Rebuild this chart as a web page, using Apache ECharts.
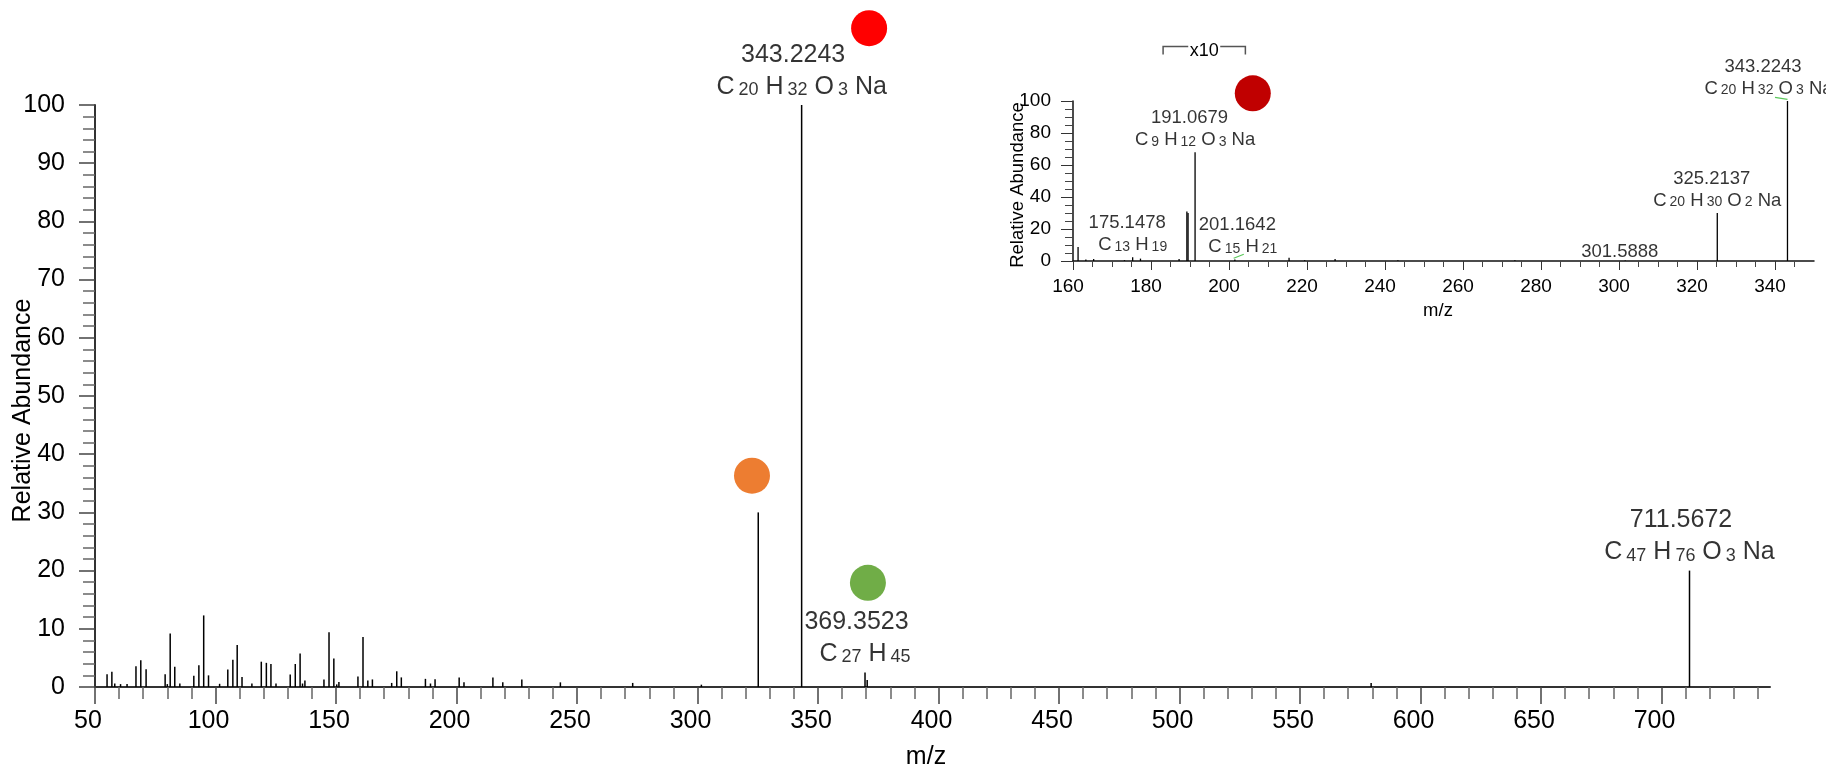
<!DOCTYPE html>
<html><head><meta charset="utf-8">
<script src="https://cdn.jsdelivr.net/npm/echarts@6/dist/echarts.min.js"></script>
<style>html,body{margin:0;padding:0;background:#fff}#c{width:1826px;height:767px}</style>
</head><body><div id="c"></div>
<script>
// ===== DATA =====
// main spectrum: [m/z, relative abundance]
const mainPeaks = [
  [55.0,2.2],[57.0,2.6],[58.2,0.6],[60.6,0.5],[63.3,0.5],[67.0,3.55],[69.0,4.6],[71.2,3.05],
  [79.1,2.2],[80.0,0.5],[81.2,9.2],[83.1,3.5],[85.2,0.6],[91.0,1.95],[93.1,3.75],[95.1,12.3],
  [97.1,2.0],[101.7,0.55],[105.1,3.0],[107.2,4.7],[109.0,7.2],[111.0,1.7],[115.1,0.6],[119.0,4.35],
  [121.1,4.15],[123.0,3.95],[125.1,0.6],[131.0,2.15],[133.1,3.95],[135.1,5.75],[136.1,0.6],[137.1,1.1],
  [145.0,1.3],[147.1,9.4],[149.1,4.9],[150.3,0.45],[151.2,0.85],[159.1,1.8],[161.2,8.6],[163.2,1.1],
  [165.1,1.3],[173.1,0.7],[175.2,2.7],[177.1,1.65],[187.1,1.4],[189.2,0.6],[191.1,1.35],[201.1,1.65],
  [203.1,0.8],[215.1,1.65],[219.2,0.8],[227.1,1.3],[243.1,0.8],[273.1,0.7],[301.6,0.4],[325.2,30],
  [343.2,100],[369.5,2.5],[370.4,1.2],[579.5,0.7],[711.6,20]
];
// inset (MS/MS of 343) spectrum
const insetPeaks = [
  [161.3,8.7],[163.3,1.0],[165.3,1.3],[173.2,0.5],[175.3,2.4],[177.3,1.5],[187.2,1.3],[189.2,31],
  [189.5,30],[191.3,68],[201.5,1.0],[215.4,2.0],[219.4,0.5],[227.2,1.2],[243.3,0.5],[273.3,0.5],
  [301.6,0.3],[325.2,30],[343.2,100]
];
// peak annotations
const mainLabelPos = [[343.2,100],[369.5,2.5],[711.6,20]];
const mainLabelMass = ['343.2243','369.3523','711.5672'];
const mainLabelFormula = ['C20 H32 O3 Na','C27 H45','C47 H76 O3 Na'];
const insetLabelPos = [[175.3,2.4],[191.3,68],[201.5,1.0],[301.6,0.3],[325.2,30],[343.2,100]];
const insetLabelMass = ['175.1478','191.0679','201.1642','301.5888','325.2137','343.2243'];
const insetLabelFormula = ['C13 H19','C9 H12 O3 Na','C15 H21','','C20 H30 O2 Na','C20 H32 O3 Na'];
// coloured dot markers [m/z, abundance]
const mainDots = [[371.2,113.2],[322.6,36.3],[370.7,17.9]];
const insetDots = [[206.1,104.8]];
// x10 zoom bracket range on inset
const zoomRange = [183.1,204.2];
const zoomText = 'x10';
const zoomLevel = 134;
// small green assignment marks on inset [x1,y1,x2,y2]
const greenMarks = [[340.0,102.3,343.2,101.0],[201.2,1.7,203.8,4.2]];
// axis ticks
const mainXTicks = [50,100,150,200,250,300,350,400,450,500,550,600,650,700];
const insetXTicks = [160,180,200,220,240,260,280,300,320,340];
const mainXMinor = []; for (let v = 60; v <= 740; v += 10) if (v % 50) mainXMinor.push(v);
const insetXMinor = []; for (let v = 165; v <= 345; v += 5) if (v % 20) insetXMinor.push(v);

// ===== STYLE =====
const FONT = "'Liberation Sans', Arial, sans-serif";
const mainDotColors = ['#FF0000','#ED7D31','#70AD47'];
const insetDotColors = ['#C00000'];
const insetLabelShift = [0,0,8,0,0,-19];
const toRich = f => f.replace(/(\d+)/g, '{s|$1}');

const chart = echarts.init(document.getElementById('c'), null, {renderer:'canvas'});

function sticks(width){
  return function(params, api){
    const x = api.value(0), y = api.value(1);
    const p0 = api.coord([x,0]), p1 = api.coord([x,y]);
    return {type:'line', shape:{x1:p0[0],y1:p0[1],x2:p1[0],y2:p1[1]}, style:{stroke:'#000', lineWidth:width}};
  };
}

const txt = {color:'#000', fontFamily:FONT};

const option = {
  backgroundColor:'#fff',
  animation:false,
  textStyle:{fontFamily:FONT},
  grid:[
    {left:95, right:56, top:105, bottom:80, outerBoundsMode:'none', containLabel:false},
    {left:1073, right:12, top:101, bottom:506, outerBoundsMode:'none', containLabel:false}
  ],
  xAxis:[
    {gridIndex:0, type:'value', min:50, max:745, interval:50, nameMoveOverlap:false,
     axisLine:{lineStyle:{color:'#333', width:2}},
     axisTick:{customValues:mainXTicks, length:17, lineStyle:{color:'#444', width:1.5}},
     axisLabel:Object.assign({customValues:mainXTicks, fontSize:25, margin:22, lineHeight:25, padding:[0,14,0,0]}, txt),
     splitLine:{show:false},
     name:'m/z', nameLocation:'middle', nameGap:58,
     nameTextStyle:Object.assign({fontSize:25, padding:[0,13,0,0]}, txt)},
    {gridIndex:1, type:'value', min:160, max:350, interval:20, nameMoveOverlap:false,
     axisLine:{lineStyle:{color:'#111', width:1.5}},
     axisTick:{customValues:insetXTicks, length:9, lineStyle:{color:'#333', width:1}},
     axisLabel:Object.assign({customValues:insetXTicks, fontSize:19, margin:16, lineHeight:19, padding:[0,10,0,0]}, txt),
     splitLine:{show:false},
     name:'m/z', nameLocation:'middle', nameGap:40,
     nameTextStyle:Object.assign({fontSize:18.5, padding:[0,11,0,0]}, txt)},
    {gridIndex:0, type:'value', min:50, max:745, position:'bottom',
     axisLine:{show:false}, axisLabel:{show:false}, splitLine:{show:false},
     axisTick:{customValues:mainXMinor, length:12, lineStyle:{color:'#666', width:1.5}}},
    {gridIndex:1, type:'value', min:160, max:350, position:'bottom',
     axisLine:{show:false}, axisLabel:{show:false}, splitLine:{show:false},
     axisTick:{customValues:insetXMinor, length:6, lineStyle:{color:'#444', width:1}}}
  ],
  yAxis:[
    {gridIndex:0, type:'value', min:0, max:100, interval:10, nameMoveOverlap:false,
     axisLine:{show:true, lineStyle:{color:'#333', width:2}},
     axisTick:{show:true, length:16, lineStyle:{color:'#444', width:1.5}},
     minorTick:{show:true, splitNumber:5, length:12, lineStyle:{color:'#666', width:1.5}},
     axisLabel:Object.assign({fontSize:25, margin:30}, txt),
     splitLine:{show:false},
     name:'Relative Abundance', nameLocation:'middle', nameGap:59,
     nameTextStyle:Object.assign({fontSize:25, padding:[0,29,0,0]}, txt)},
    {gridIndex:1, type:'value', min:0, max:100, interval:20, nameMoveOverlap:false,
     axisLine:{show:true, lineStyle:{color:'#111', width:1.5}},
     axisTick:{show:true, length:12, lineStyle:{color:'#333', width:1}},
     minorTick:{show:true, splitNumber:4, length:8, lineStyle:{color:'#444', width:1}},
     axisLabel:Object.assign({fontSize:19, margin:22}, txt),
     splitLine:{show:false},
     name:'Relative Abundance', nameLocation:'middle', nameGap:46,
     nameTextStyle:Object.assign({fontSize:18.5, padding:[0,8,0,0]}, txt)}
  ],
  series:[
    {type:'custom', xAxisIndex:0, yAxisIndex:0, data:mainPeaks, renderItem:sticks(1.5), silent:true},
    {type:'custom', xAxisIndex:1, yAxisIndex:1, data:insetPeaks, renderItem:sticks(1.3), silent:true},
    {type:'scatter', xAxisIndex:0, yAxisIndex:0, symbolSize:0, silent:true, clip:false,
     data:mainLabelPos.map((p,i)=>({value:p})),
     label:{show:true, position:'top', distance:2, color:'#000', fontFamily:FONT, fontSize:25, lineHeight:32,
       formatter:p=>'{n|'+mainLabelMass[p.dataIndex]+'}\n'+toRich(mainLabelFormula[p.dataIndex]),
       rich:{n:{fontSize:25, lineHeight:32, padding:[0,17,0,0], fontFamily:FONT, color:'#000'},
             s:{fontSize:18, lineHeight:32, verticalAlign:'bottom', height:26, padding:[0,0,0,4], fontFamily:FONT, color:'#000'}}}},
    {type:'scatter', xAxisIndex:1, yAxisIndex:1, symbolSize:0, silent:true, clip:false,
     data:insetLabelPos.map((p,i)=>({value:p, label:{offset:[insetLabelShift[i],0], distance: insetLabelFormula[i] ? 1 : -2}})),
     label:{show:true, position:'top', distance:1, color:'#000', fontFamily:FONT, fontSize:18.5, lineHeight:22,
       formatter:p=>'{n|'+insetLabelMass[p.dataIndex]+'}' + (insetLabelFormula[p.dataIndex] ? '\n'+toRich(insetLabelFormula[p.dataIndex]) : ''),
       rich:{n:{fontSize:18.5, lineHeight:22, padding:[0,11,0,0], fontFamily:FONT, color:'#000'},
             s:{fontSize:14, lineHeight:22, verticalAlign:'bottom', height:19, padding:[0,0,0,3], fontFamily:FONT, color:'#000'}}}},
    {type:'scatter', xAxisIndex:0, yAxisIndex:0, symbolSize:36, silent:true, clip:false,
     data:mainDots.map((p,i)=>({value:p, itemStyle:{color:mainDotColors[i], opacity:1}}))},
    {type:'scatter', xAxisIndex:1, yAxisIndex:1, symbolSize:36, silent:true, clip:false,
     data:insetDots.map((p,i)=>({value:p, itemStyle:{color:insetDotColors[i], opacity:1}}))},
    {type:'custom', xAxisIndex:1, yAxisIndex:1, data:greenMarks, silent:true, clip:false,
     renderItem:function(params, api){
       const a = api.coord([api.value(0), api.value(1)]), b = api.coord([api.value(2), api.value(3)]);
       return {type:'line', shape:{x1:a[0],y1:a[1],x2:b[0],y2:b[1]}, style:{stroke:'#5cc85c', lineWidth:1.2}};
     }}
  ]
};
chart.setOption(option);

// x10 bracket
const bx0 = chart.convertToPixel({xAxisIndex:1}, zoomRange[0]);
const bx1 = chart.convertToPixel({xAxisIndex:1}, zoomRange[1]);
const by = chart.convertToPixel({yAxisIndex:1}, zoomLevel);
const bmid = (bx0 + bx1) / 2;
chart.setOption({graphic:[
  {type:'polyline', shape:{points:[[bx0,by+8],[bx0,by],[bmid-16,by]]}, style:{stroke:'#555', lineWidth:1.5, fill:null}},
  {type:'polyline', shape:{points:[[bmid+16,by],[bx1,by],[bx1,by+8]]}, style:{stroke:'#555', lineWidth:1.5, fill:null}},
  {type:'text', x:bmid, y:by+4, style:{text:zoomText, fontSize:18, fontFamily:FONT, fill:'#000', align:'center', verticalAlign:'middle'}}
]});
</script></body></html>
